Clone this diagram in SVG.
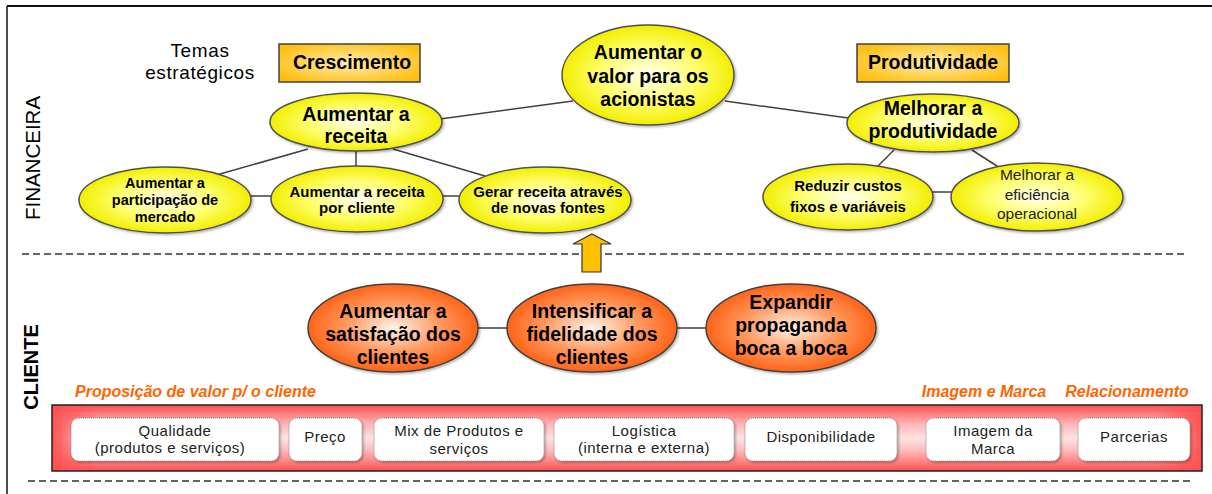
<svg xmlns="http://www.w3.org/2000/svg" width="1212" height="494" viewBox="0 0 1212 494">
<defs>
<radialGradient id="gY" cx="50%" cy="50%" r="50%">
<stop offset="0%" stop-color="#FFFFF0"/>
<stop offset="55%" stop-color="#FFFF70"/>
<stop offset="100%" stop-color="#F2EE00"/>
</radialGradient>
<radialGradient id="gO" cx="50%" cy="50%" r="50%">
<stop offset="0%" stop-color="#FFF4EC"/>
<stop offset="55%" stop-color="#FF9A60"/>
<stop offset="100%" stop-color="#FF6418"/>
</radialGradient>
<radialGradient id="gT" cx="50%" cy="50%" r="60%">
<stop offset="0%" stop-color="#FFEDB0"/>
<stop offset="100%" stop-color="#FFBF10"/>
</radialGradient>
<linearGradient id="gBandV" x1="0" y1="0" x2="0" y2="1">
<stop offset="0%" stop-color="#FF5050"/>
<stop offset="30%" stop-color="#FFB8B8"/>
<stop offset="50%" stop-color="#FFE4E4"/>
<stop offset="70%" stop-color="#FFB8B8"/>
<stop offset="100%" stop-color="#FF5050"/>
</linearGradient>
<linearGradient id="gBandH" x1="0" y1="0" x2="1" y2="0">
<stop offset="0%" stop-color="#FF5050" stop-opacity="1"/>
<stop offset="1.6%" stop-color="#FF5050" stop-opacity="0.6"/>
<stop offset="4%" stop-color="#FF5050" stop-opacity="0"/>
<stop offset="96%" stop-color="#FF5050" stop-opacity="0"/>
<stop offset="98.4%" stop-color="#FF5050" stop-opacity="0.6"/>
<stop offset="100%" stop-color="#FF5050" stop-opacity="1"/>
</linearGradient>
<filter id="sh" x="-10%" y="-10%" width="125%" height="130%">
<feDropShadow dx="1.5" dy="1.5" stdDeviation="1" flood-color="#000" flood-opacity="0.3"/>
</filter>
</defs>
<style>
text{font-family:"Liberation Sans",Arial,sans-serif;fill:#000;text-anchor:middle}
text.start{text-anchor:start}
.ey{fill:url(#gY);stroke:#505050;stroke-width:1.5;filter:url(#sh)}
.eo{fill:url(#gO);stroke:#404040;stroke-width:1.5;filter:url(#sh)}
.tb{fill:url(#gT);stroke:#404040;stroke-width:1.5}
.b20{font-size:19.5px;font-weight:bold}
.b15{font-size:15px;font-weight:bold}
.b145{font-size:14.5px;font-weight:bold}
.n15{font-size:15.5px;fill:#222}
.wb{fill:#fff;stroke:#888;stroke-width:1;stroke-dasharray:1 1;filter:url(#sh)}
.wt{font-size:15px;fill:#222;letter-spacing:0.5px}
.lab{font-size:16px;font-weight:bold;font-style:italic;fill:#FF6600}
.cn line{stroke:#404040;stroke-width:1.5}
.dash{stroke:#333;stroke-width:1.5;stroke-dasharray:7 4}
</style>
<rect x="0" y="0" width="1212" height="494" fill="#fff"/>
<!-- frame -->
<line x1="7" y1="6" x2="1212" y2="6" stroke="#111" stroke-width="2"/>
<line x1="7" y1="6" x2="7" y2="494" stroke="#111" stroke-width="1.5"/>
<!-- section labels -->
<g id="lbl-financeira"><text transform="translate(40,158) rotate(-90)" font-size="20.5">FINANCEIRA</text></g>
<g id="lbl-cliente"><text transform="translate(38,367) rotate(-90)" font-size="20" font-weight="bold">CLIENTE</text></g>
<!-- dashed separators -->
<line class="dash" x1="22" y1="254" x2="1186" y2="254"/>
<line class="dash" x1="28" y1="481" x2="1190" y2="481"/>
<!-- themes -->
<g id="temas"><text x="200" y="57" font-size="19" letter-spacing="0.6">Temas</text><text x="200" y="79" font-size="19" letter-spacing="0.6">estratégicos</text></g>
<g id="crescimento"><rect class="tb" x="279" y="44" width="141" height="38"/><text class="b20" x="352" y="69">Crescimento</text></g>
<g id="produtividade"><rect class="tb" x="857" y="44" width="152" height="38"/><text class="b20" x="933" y="69">Produtividade</text></g>
<!-- connectors -->
<g id="connectors" class="cn">
<line x1="440" y1="119" x2="573" y2="101"/>
<line x1="725" y1="101" x2="848" y2="118"/>
<line x1="308" y1="149" x2="213" y2="176"/>
<line x1="356" y1="150" x2="356" y2="167"/>
<line x1="393" y1="149" x2="485" y2="176"/>
<line x1="250" y1="196" x2="271" y2="196"/>
<line x1="442" y1="196" x2="460" y2="196"/>
<line x1="894" y1="150" x2="877" y2="167"/>
<line x1="972" y1="150" x2="1000" y2="168"/>
<line x1="932" y1="192" x2="952" y2="192"/>
<line x1="477" y1="328" x2="508" y2="328"/>
<line x1="676" y1="328" x2="707" y2="328"/>
</g>
<!-- financial nodes -->
<g id="acionistas"><ellipse class="ey" cx="648" cy="75" rx="86" ry="50"/><text class="b20" x="648" y="59">Aumentar o</text><text class="b20" x="648" y="83">valor para os</text><text class="b20" x="648" y="106">acionistas</text></g>
<g id="receita"><ellipse class="ey" cx="356" cy="122" rx="86" ry="29"/><text class="b20" x="356" y="121">Aumentar a</text><text class="b20" x="356" y="143">receita</text></g>
<g id="participacao"><ellipse class="ey" cx="165" cy="200" rx="86" ry="33"/><text class="b145" x="165" y="188">Aumentar a</text><text class="b145" x="165" y="205">participação de</text><text class="b145" x="165" y="222">mercado</text></g>
<g id="receita-cliente"><ellipse class="ey" cx="357" cy="199" rx="86" ry="33"/><text class="b15" x="357" y="197">Aumentar a receita</text><text class="b15" x="357" y="213">por cliente</text></g>
<g id="novas-fontes"><ellipse class="ey" cx="545" cy="200" rx="86" ry="33"/><text class="b15" x="548" y="197">Gerar receita através</text><text class="b15" x="548" y="213">de novas fontes</text></g>
<g id="melhorar-produtividade"><ellipse class="ey" cx="933" cy="123" rx="86" ry="29"/><text class="b20" x="933" y="115">Melhorar a</text><text class="b20" x="933" y="138">produtividade</text></g>
<g id="reduzir-custos"><ellipse class="ey" cx="848" cy="197" rx="85" ry="33"/><text class="b15" x="848" y="191">Reduzir custos</text><text class="b15" x="848" y="212">fixos e variáveis</text></g>
<g id="eficiencia"><ellipse class="ey" cx="1037" cy="197" rx="86" ry="34"/><text class="n15" x="1037" y="180">Melhorar a</text><text class="n15" x="1037" y="200">eficiência</text><text class="n15" x="1037" y="219">operacional</text></g>
<!-- arrow -->
<g id="seta"><path d="M592,234 L611,244 L601,244 L601,272 L582,272 L582,244 L573,244 Z" fill="#FFC000" stroke="#333" stroke-width="1.2"/></g>
<!-- customer nodes -->
<g id="satisfacao"><ellipse class="eo" cx="393" cy="328" rx="85" ry="44"/><text class="b20" x="393" y="318">Aumentar a</text><text class="b20" x="393" y="341">satisfação dos</text><text class="b20" x="393" y="364">clientes</text></g>
<g id="fidelidade"><ellipse class="eo" cx="592" cy="328" rx="85" ry="44"/><text class="b20" x="592" y="318">Intensificar a</text><text class="b20" x="592" y="341">fidelidade dos</text><text class="b20" x="592" y="364">clientes</text></g>
<g id="propaganda"><ellipse class="eo" cx="791" cy="328" rx="85" ry="44"/><text class="b20" x="791" y="309">Expandir</text><text class="b20" x="791" y="332">propaganda</text><text class="b20" x="791" y="355">boca a boca</text></g>
<!-- value proposition -->
<g id="labels"><text class="lab start" x="75" y="397">Proposição de valor p/ o cliente</text><text class="lab" x="984" y="397">Imagem e Marca</text><text class="lab" x="1127" y="397">Relacionamento</text></g>
<g id="faixa"><rect x="52" y="405" width="1150" height="66" fill="url(#gBandV)"/><rect x="52" y="405" width="1150" height="66" fill="url(#gBandH)" stroke="#222" stroke-width="1.5"/></g>
<g id="qualidade"><rect class="wb" x="71" y="418" width="208" height="43" rx="8"/><text class="wt" x="175" y="436">Qualidade</text><text class="wt" x="170" y="453">(produtos e serviços)</text></g>
<g id="preco"><rect class="wb" x="289" y="418" width="73" height="43" rx="8"/><text class="wt" x="325" y="442">Preço</text></g>
<g id="mix"><rect class="wb" x="374" y="418" width="170" height="43" rx="8"/><text class="wt" x="459" y="436">Mix de Produtos e</text><text class="wt" x="459" y="454">serviços</text></g>
<g id="logistica"><rect class="wb" x="554" y="418" width="180" height="43" rx="8"/><text class="wt" x="644" y="436">Logística</text><text class="wt" x="644" y="453">(interna e externa)</text></g>
<g id="disponibilidade"><rect class="wb" x="745" y="418" width="152" height="43" rx="8"/><text class="wt" x="821" y="442">Disponibilidade</text></g>
<g id="imagem-marca"><rect class="wb" x="926" y="418" width="134" height="43" rx="8"/><text class="wt" x="993" y="436">Imagem da</text><text class="wt" x="993" y="454">Marca</text></g>
<g id="parcerias"><rect class="wb" x="1078" y="418" width="112" height="43" rx="8"/><text class="wt" x="1134" y="442">Parcerias</text></g>
</svg>
